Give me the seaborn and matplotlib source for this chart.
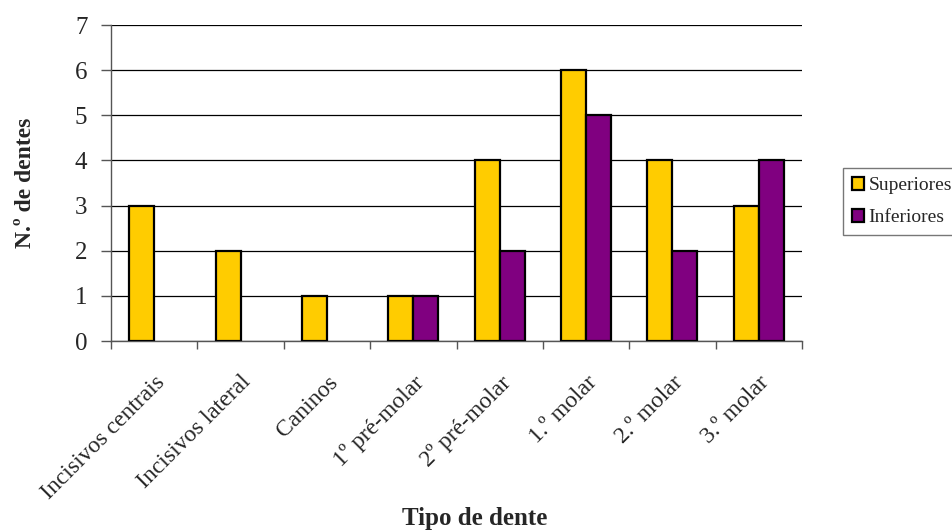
import numpy as np
import pandas as pd
import matplotlib
matplotlib.use("Agg")
import matplotlib.pyplot as plt
import seaborn as sns
from matplotlib.ticker import FixedLocator

categories = ["Incisivos centrais", "Incisivos lateral", "Caninos", "1º pré-molar",
              "2º pré-molar", "1.º molar", "2.º molar", "3.º molar"]
superiores = [3, 2, 1, 1, 4, 6, 4, 3]
inferiores = [np.nan, np.nan, np.nan, 1, 2, 5, 2, 4]
series_names = ["Superiores", "Inferiores"]
colors = ["#FFCC00", "#800080"]

df = pd.DataFrame({
    "Tipo": categories * 2,
    "Serie": [series_names[0]] * len(categories) + [series_names[1]] * len(categories),
    "Valor": superiores + inferiores,
})

sns.set_theme(style="white")
plt.rcParams["font.family"] = ["Liberation Serif", "DejaVu Serif"]

fig = plt.figure(figsize=(9.52, 5.31), dpi=100)
ax = fig.add_axes([111 / 952, 1 - 341 / 531, (802 - 111) / 952, (341 - 25) / 531])

sns.barplot(data=df, x="Tipo", y="Valor", hue="Serie", order=categories,
            hue_order=series_names, palette=colors, saturation=1, width=0.58,
            edgecolor="black", linewidth=1.6, ax=ax, legend=True, zorder=3)

ax.set_xlim(-0.5, len(categories) - 0.5)
ax.set_ylim(0, 7)
ax.set_yticks(range(0, 8))
ax.yaxis.grid(True, color="black", linewidth=0.9, zorder=0)
ax.set_axisbelow(True)

for side in ("top", "right"):
    ax.spines[side].set_visible(False)
for side in ("left", "bottom"):
    ax.spines[side].set_color("#555555")
    ax.spines[side].set_linewidth(1.0)

ax.tick_params(axis="y", which="major", direction="out", length=7, width=1,
               color="#555555", labelsize=18, pad=10, left=True)
ax.tick_params(axis="x", which="major", length=0, labelsize=17, pad=22)
ax.xaxis.set_minor_locator(FixedLocator(np.arange(-0.5, len(categories), 1.0)))
ax.tick_params(axis="x", which="minor", direction="out", length=6, width=1,
               color="#555555", bottom=True)

ax.set_xticks(range(len(categories)))
ax.set_xticklabels(categories, rotation=45, ha="right", rotation_mode="anchor")

ax.set_xlabel("")
ax.set_ylabel("N.º de dentes", fontsize=17, fontweight="bold", labelpad=28)
fig.text(475 / 952, 1 - 519 / 531, "Tipo de dente", fontsize=18,
         fontweight="bold", ha="center", va="center")

leg = ax.legend(loc="upper left", bbox_to_anchor=(843 / 952, 1 - 168 / 531),
                bbox_transform=fig.transFigure, frameon=True, fontsize=14,
                handlelength=0.65, handleheight=0.65, handletextpad=0.2,
                borderpad=0.45, labelspacing=0.75, fancybox=False,
                borderaxespad=0)
leg.get_frame().set_edgecolor("#555555")
leg.get_frame().set_linewidth(1.0)
for h in leg.legend_handles:
    h.set_edgecolor("black")
    h.set_linewidth(1.6)

fig.savefig("out.png", dpi=100)
